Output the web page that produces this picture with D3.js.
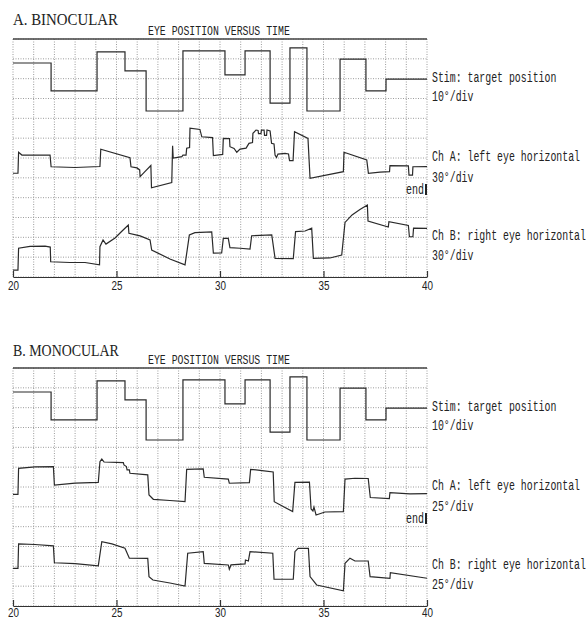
<!DOCTYPE html>
<html>
<head>
<meta charset="utf-8">
<script src="https://cdnjs.cloudflare.com/ajax/libs/d3/7.8.5/d3.min.js"></script>
<style>
  body { margin: 0; background: #fff; }
  svg { display: block; }
  .grid line { stroke: #9c9c9c; stroke-width: 1; stroke-dasharray: 1,1.5; }
  .trace { fill: none; stroke: #2a2a2a; stroke-width: 1.2; }
  .mono { font-family: "Liberation Mono", monospace; fill: #222; }
  .axis text { font-family: "Liberation Sans", Arial, sans-serif; font-size: 13px; fill: #222; }
  .axis path, .axis line { stroke: #333; stroke-width: 1.2; }
</style>
</head>
<body>
<svg id="chart" width="586" height="621"></svg>
<script>
/*******************************************************************************************/
// Data: time (s) and position in grid divisions counted from the bottom of the panel

var xTicks = [20, 25, 30, 35, 40];

// target position, same for both sessions (step after each time)
var stimulus = [[20.00,10.79],[21.84,9.38],[24.06,11.35],[25.41,10.39],[26.43,8.37],[28.21,11.40],
  [30.24,10.19],[31.21,11.40],[32.42,8.77],[33.38,11.55],[34.20,8.37],[35.80,10.99],[37.05,9.38],
  [38.02,9.98],[40.00,9.98]];

var binocularLeft = [[20.00,5.23],[20.24,5.23],[20.27,6.29],[20.43,6.15],[21.79,6.15],[21.84,5.56],
  [23.00,5.52],[24.20,5.57],[24.24,6.44],[25.65,6.02],[25.70,5.56],[25.99,5.50],[26.12,5.40],
  [26.14,5.06],[26.36,5.30],[26.66,5.62],[26.69,4.50],[27.67,4.76],[27.71,6.62],[27.74,6.00],
  [28.16,6.07],[28.21,6.15],[28.36,6.15],[28.39,6.49],[28.53,6.53],[28.55,7.50],[29.03,7.44],
  [29.12,7.07],[29.64,7.03],[29.68,6.12],[30.13,6.18],[30.16,6.99],[30.46,6.98],[30.48,6.57],
  [30.68,6.48],[30.81,6.29],[30.97,6.45],[31.26,6.50],[31.40,6.74],[31.57,6.78],[31.59,7.25],
  [31.74,7.41],[31.84,7.39],[31.86,7.23],[31.98,7.23],[32.00,7.41],[32.13,7.41],[32.15,7.14],
  [32.25,7.14],[32.27,7.41],[32.42,7.36],[32.49,6.74],[32.61,6.71],[32.66,6.15],[32.73,6.03],
  [32.80,6.20],[33.14,6.23],[33.31,6.20],[33.36,5.87],[33.53,5.87],[33.60,7.33],[34.25,6.99],
  [34.35,4.98],[35.96,5.31],[35.99,6.29],[37.09,5.90],[37.17,5.23],[37.73,5.29],[38.19,5.31],
  [38.21,5.62],[39.10,5.60],[39.13,5.14],[39.30,5.14],[39.32,5.56],[40.00,5.57]];

var binocularRight = [[20.00,0.35],[20.24,0.35],[20.27,1.45],[20.82,1.54],[21.55,1.56],[21.80,1.51],
  [21.82,0.77],[22.75,0.73],[23.48,0.73],[24.18,0.61],[24.20,1.53],[24.35,1.87],[24.49,1.66],
  [24.93,1.97],[25.27,2.32],[25.57,2.62],[25.60,2.20],[26.14,2.07],[26.62,1.87],[26.70,1.36],
  [27.58,0.91],[28.31,0.61],[28.52,2.12],[28.79,2.24],[29.60,2.27],[29.68,1.20],[30.08,1.21],
  [30.16,1.95],[30.40,1.95],[30.48,1.48],[30.97,1.45],[31.45,1.41],[31.53,2.08],[32.50,2.12],
  [32.66,0.94],[33.54,0.93],[33.65,2.29],[34.11,2.32],[34.43,2.46],[34.51,0.94],[35.31,0.96],
  [35.88,1.11],[36.04,2.75],[36.38,3.13],[36.76,3.40],[37.12,3.63],[37.15,2.82],[38.13,2.52],
  [38.16,2.79],[39.10,2.60],[39.15,2.03],[39.32,2.03],[39.35,2.46],[40.00,2.45]];

var monocularLeft = [[20.00,5.63],[20.24,5.63],[20.27,6.94],[21.06,7.01],[21.95,7.03],[22.00,6.10],
  [23.00,6.20],[24.12,6.23],[24.20,7.28],[24.29,7.41],[24.40,7.26],[25.33,7.23],[25.36,7.11],
  [25.48,7.03],[25.51,6.86],[25.62,6.86],[25.65,6.69],[26.51,6.61],[26.57,5.60],[26.78,5.38],
  [27.58,5.32],[28.31,5.26],[28.39,6.89],[29.19,6.91],[29.24,6.49],[30.40,6.40],[30.45,6.19],
  [31.42,6.22],[31.48,6.89],[32.03,6.83],[32.57,6.76],[32.62,5.26],[33.51,4.76],[33.62,6.23],
  [34.32,6.25],[34.40,4.89],[34.49,4.79],[34.54,4.99],[34.64,4.59],[35.07,4.74],[35.96,4.76],
  [36.04,6.40],[36.52,6.44],[37.16,6.43],[37.26,5.47],[38.18,5.42],[38.21,5.71],[39.18,5.65],
  [40.00,5.67]];

var monocularRight = [[20.00,1.90],[20.24,1.90],[20.27,3.13],[21.06,3.10],[21.95,3.03],[22.00,2.18],
  [23.00,2.14],[24.12,2.03],[24.29,3.24],[24.78,3.13],[25.41,2.91],[25.62,2.41],[26.51,2.40],
  [26.57,1.48],[26.76,1.31],[27.58,1.16],[28.31,1.01],[28.44,2.66],[29.19,2.74],[29.24,2.15],
  [30.40,2.07],[30.45,1.85],[30.53,2.07],[31.21,2.12],[31.23,2.32],[31.37,2.27],[31.45,2.74],
  [32.55,2.66],[32.61,1.35],[33.54,1.35],[33.62,2.74],[33.77,2.91],[34.27,2.91],[34.35,1.48],
  [34.67,1.06],[35.96,0.77],[36.04,2.15],[36.28,2.41],[36.52,2.27],[37.16,2.27],[37.25,1.48],
  [38.21,1.40],[38.23,1.68],[40.00,1.40]];

var plotTitle = 'EYE POSITION VERSUS TIME';
var channelNames = ['Stim: target position', 'Ch A: left eye horizontal', 'Ch B: right eye horizontal'];
var binocularScales = ['10°/div', '30°/div', '30°/div'];
var monocularScales = ['10°/div', '25°/div', '25°/div'];

/*******************************************************************************************/
// Layout

var svg = d3.select('#chart');
var plotW = [13, 427], plotH = 238, charW = 5.92;
var labelOffsets = [[43, 62], [122, 143], [201, 221]];

var panels = [
  { top: 39,  titleY: 25,  title: 'A. BINOCULAR', titleLen: 105, tickPad: 4, scales: binocularScales, left: binocularLeft, right: binocularRight },
  { top: 368, titleY: 356, title: 'B. MONOCULAR', titleLen: 106, tickPad: 2, scales: monocularScales, left: monocularLeft, right: monocularRight }
];

var xScale = d3.scaleLinear().domain([20, 40]).range(plotW);
var yScale = d3.scaleLinear().domain([0, 12]).range([plotH, 0]);

var lineGen = d3.line().x(function(d){ return xScale(d[0]) }).y(function(d){ return yScale(d[1]) });
var stepGen = d3.line().curve(d3.curveStepAfter).x(function(d){ return xScale(d[0]) }).y(function(d){ return yScale(d[1]) });

// the printout is squeezed sideways, so every text gets a horizontal scale to its measured width
function squeezedText(parent, x, y, str, cls, size, width, anchor){
  var t = parent.append('text').attr('class', cls).style('font-size', size + 'px')
                .attr('text-anchor', anchor || 'start').text(str);
  var k = width / t.node().getComputedTextLength();
  t.attr('transform', 'translate(' + x + ',' + y + ') scale(' + k + ',1)');
  return t;
}

/*******************************************************************************************/
// Draw one panel

function drawPanel(p){
  squeezedText(svg, 13, p.titleY, p.title, 'serif', 16, p.titleLen)
     .style('font-family', '"Liberation Serif", "Times New Roman", serif').style('fill', '#222');

  var origin = svg.append('g').attr('transform', 'translate(0,' + p.top + ')');

  squeezedText(origin, 148, -4, plotTitle, 'mono', 12, 142);

  // dotted grid, one line per second and per division
  var grid = origin.append('g').attr('class', 'grid');
  grid.selectAll('.v').data(d3.range(20, 41)).join('line').attr('class', 'v')
      .attr('x1', function(d){ return xScale(d) }).attr('x2', function(d){ return xScale(d) })
      .attr('y1', 0).attr('y2', plotH);
  grid.selectAll('.h').data(d3.range(0, 13)).join('line').attr('class', 'h')
      .attr('x1', plotW[0]).attr('x2', plotW[1])
      .attr('y1', function(d){ return yScale(d) }).attr('y2', function(d){ return yScale(d) });

  origin.append('line').attr('x1', plotW[0]).attr('x2', plotW[1]).attr('y1', 0).attr('y2', 0)
        .style('stroke', '#444').style('stroke-width', 1.6);

  var axis = origin.append('g').attr('class', 'axis').attr('transform', 'translate(0,' + plotH + ')')
        .call(d3.axisBottom(xScale).tickValues(xTicks).tickSize(-6).tickSizeOuter(0).tickPadding(p.tickPad));
  axis.selectAll('text').each(function(){
    var k = 11 / this.getComputedTextLength();
    d3.select(this).attr('transform', 'scale(' + k + ',1)');
  });

  // traces
  origin.append('path').attr('class', 'trace').attr('d', stepGen(stimulus));
  origin.append('path').attr('class', 'trace').attr('d', lineGen(p.left));
  origin.append('path').attr('class', 'trace').attr('d', lineGen(p.right));

  // channel labels on the right
  for(var i = 0; i < channelNames.length; i++){
    squeezedText(origin, 432, labelOffsets[i][0], channelNames[i], 'mono', 14, channelNames[i].length * charW);
    squeezedText(origin, 432, labelOffsets[i][1], p.scales[i], 'mono', 14, p.scales[i].length * charW);
  }

  squeezedText(origin, 424, 155, 'end', 'mono', 14, 18, 'end');
  origin.append('rect').attr('x', 425).attr('y', 145).attr('width', 2).attr('height', 11).style('fill', '#222');
}

panels.forEach(drawPanel);
</script>
</body>
</html>
